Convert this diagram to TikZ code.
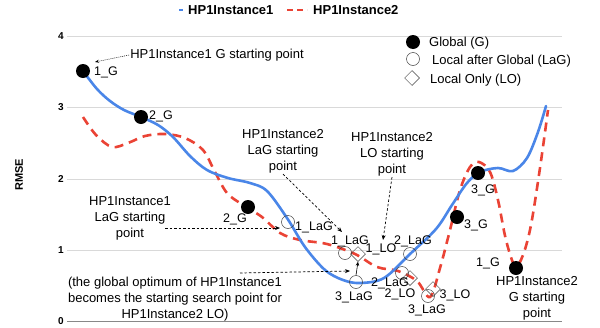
\documentclass[tikz,border=0pt]{standalone}
\usepackage{fontspec}
\setmainfont{Liberation Sans}
\usepackage{xcolor}
\usepackage{tikz}
\usetikzlibrary{arrows.meta,shapes.geometric}
\definecolor{gridGray}{HTML}{D9D9D9}
\definecolor{baseGray}{HTML}{888888}
\definecolor{hpBlue}{HTML}{4A86E8}
\definecolor{hpRed}{HTML}{EA4335}
\tikzset{
  gridLine/.style={draw=gridGray, line width=0.8pt},
  baseLine/.style={draw=baseGray, line width=0.9pt},
  tickLab/.style={font=\fontsize{10}{12}\selectfont\bfseries, anchor=east, inner sep=0pt},
  blueCurve/.style={draw=hpBlue, line width=2.6pt, line cap=round},
  redCurve/.style={draw=hpRed, line width=2.6pt, dash pattern=on 9pt off 6pt},
  gDot/.style={circle, fill=black, inner sep=0pt, minimum size=14pt},
  lagMark/.style={circle, draw=black!75, line width=0.5pt, inner sep=0pt, minimum size=13pt},
  loMark/.style={diamond, draw=black!75, line width=0.5pt, inner sep=0pt, minimum width=15pt, minimum height=15pt, aspect=1},
  ptlab/.style={font=\fontsize{12.5}{14}\selectfont, inner sep=0pt},
  annot/.style={font=\fontsize{13}{16}\selectfont, align=center, inner sep=1pt},
  legLab/.style={font=\fontsize{13}{15}\selectfont, anchor=west, inner sep=0pt},
  legHead/.style={font=\fontsize{13}{15}\selectfont\bfseries, anchor=west, inner sep=0pt},
  annoArrow/.style={-{Stealth[length=5pt,width=4pt]}, dash pattern=on 2.5pt off 2pt, line width=0.7pt},
  dotArrow/.style={-{Stealth[length=4pt,width=3pt]}, dash pattern=on 1pt off 1pt, line width=0.5pt}
}

\begin{document}
\begin{tikzpicture}[x=1pt, y=-1pt]
  \useasboundingbox (0,0) rectangle (600,327);

  % grid and axis
  \foreach \yy/\lab in {36/4, 107/3, 179/2, 250/1} {
    \draw[gridLine] (67,\yy) -- (562,\yy);
    \node[tickLab] at (64,\yy) {\lab};
  }
  \draw[baseLine] (67,321) -- (562,321);
  \node[tickLab] at (64,321) {0};
  \node[font=\fontsize{11}{13}\selectfont\bfseries, rotate=90] (yLab) at (19,175) {RMSE};

  % legend on top
  \draw[draw=hpBlue, line width=2.6pt] (179,10) -- (183,10);
  \node[legHead] (legOne) at (188,10) {HP1Instance1};
  \draw[draw=hpRed, line width=2.6pt, dash pattern=on 6pt off 4pt] (287,10) -- (307,10);
  \node[legHead] (legTwo) at (313,10) {HP1Instance2};

  % marker legend
  \node[gDot] (keyG) at (413,42) {};
  \node[legLab] at (429,43) {Global (G)};
  \node[lagMark] (keyLaG) at (413,59) {};
  \node[legLab] at (432,61) {Local after Global (LaG)};
  \node[loMark] (keyLO) at (412,78) {};
  \node[legLab] at (430,80) {Local Only (LO)};

  % HP1Instance2
  \draw[redCurve] plot[smooth, tension=0.55] coordinates {
    (83,117) (96,135) (112,147) (128,143) (145,136) (165,134) (185,138)
    (203,150) (215,172) (227,193) (243,205) (262,217) (280,233)
    (300,240) (327,244) (355,254) (377,267) (398,271) (417,281) (430,297)
    (440,268) (450,230) (460,190) (470,167) (479,162) (490,172) (498,200)
    (506,240) (515,266) (523,255) (531,225) (540,168) (548,110)};

  % HP1Instance1
  \draw[blueCurve] plot[smooth, tension=0.55] coordinates {
    (83,71) (97,89) (110,101) (124,110) (141,117) (158,125) (173,137)
    (190,156) (207,170) (228,178) (250,183) (267,191) (287,218)
    (305,247) (325,270) (343,280) (360,283) (384,278) (410,254)
    (436,229) (452,205) (467,183) (480,172) (498,168) (513,171)
    (527,158) (538,132) (546,106)};

  % global points
  \node[gDot] (g1a) at (83,71) {};
  \node[gDot] (g2a) at (141,117) {};
  \node[gDot] (g2b) at (248,207) {};
  \node[gDot] (g3a) at (478,173) {};
  \node[gDot] (g3b) at (457,217) {};
  \node[gDot] (g1b) at (516,268) {};

  % local after global
  \node[lagMark] (lag1a) at (288,222) {};
  \node[lagMark] (lag1b) at (345,253) {};
  \node[lagMark] (lag2a) at (410,254) {};
  \node[lagMark] (lag3a) at (356,282) {};
  \node[lagMark] (lag2b) at (402,273) {};
  \node[lagMark] (lag3b) at (428,296) {};

  % local only
  \node[loMark] (lo1) at (358,254) {};
  \node[loMark] (lo2) at (410,278) {};
  \node[loMark] (lo3) at (433,289) {};

  % point labels
  \node[ptlab, anchor=west] (labG1a) at (94,72) {1\_G};
  \node[ptlab, anchor=west] (labG2a) at (149,116) {2\_G};
  \node[ptlab] (labG2b) at (235,219) {2\_G};
  \node[ptlab] (labG3a) at (483,190) {3\_G};
  \node[ptlab] (labG3b) at (476,225) {3\_G};
  \node[ptlab] (labG1b) at (488,263) {1\_G};
  \node[ptlab] (labLag1a) at (314,227) {1\_LaG};
  \node[ptlab] (labLag1b) at (350,241) {1\_LaG};
  \node[ptlab] (labLo1) at (381,249) {1\_LO};
  \node[ptlab] (labLag2a) at (413,241) {2\_LaG};
  \node[ptlab] (labLag3a) at (354,297) {3\_LaG};
  \node[ptlab] (labLag2b) at (390,283) {2\_LaG};
  \node[ptlab] (labLo2) at (400,294) {2\_LO};
  \node[ptlab] (labLag3b) at (427,310) {3\_LaG};
  \node[ptlab] (labLo3) at (455,295) {3\_LO};

  % annotations
  \node[annot] (txtG1) at (217,55) {HP1Instance1 G starting point};
  \node[annot] (txtLaG1) at (130,218) {HP1Instance1\\LaG starting\\point};
  \node[annot] (txtLaG2) at (283,151) {HP1Instance2\\LaG starting\\point};
  \node[annot] (txtLO2) at (392,154) {HP1Instance2\\LO starting\\point};
  \node[annot] (txtGlob) at (175,299) {(the global optimum of HP1Instance1\\becomes the starting search point for\\HP1Instance2 LO)};
  \node[annot] (txtG2) at (537,298) {HP1Instance2\\G starting\\point};

  \coordinate (tipG1) at (95,62);
  \coordinate (tailLaG1) at (165,228);
  \coordinate (tipLaG1) at (280,228);
  \coordinate (tipLaG2) at (342,232);
  \coordinate (tipLO2) at (383,240);
  \coordinate (tailGlob) at (240,273);
  \coordinate (tipGlob) at (350,271);

  \draw[dotArrow] (txtG1.west) -- (tipG1);
  \draw[annoArrow] (tailLaG1) -- (tipLaG1);
  \draw[annoArrow] (txtLaG2.south) -- (tipLaG2);
  \draw[annoArrow] (txtLO2.south) -- (tipLO2);
  \draw[annoArrow] (tailGlob) -- (tipGlob);
  \draw[-{Stealth[length=4pt,width=3.5pt]}, line width=0.6pt] (lag3a.north) -- (lo1.south);
\end{tikzpicture}
\end{document}
